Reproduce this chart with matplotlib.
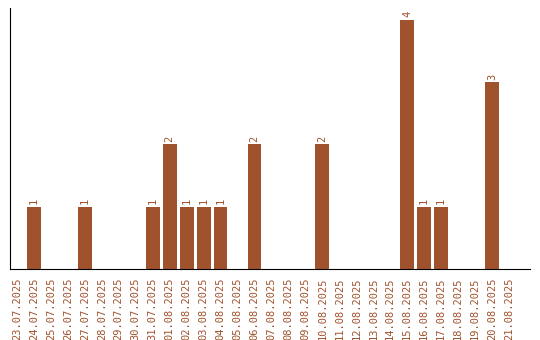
import numpy as np
import matplotlib
matplotlib.use('Agg')
import matplotlib.pyplot as plt

dates = ['23.07.2025', '24.07.2025', '25.07.2025', '26.07.2025', '27.07.2025',
         '28.07.2025', '29.07.2025', '30.07.2025', '31.07.2025', '01.08.2025',
         '02.08.2025', '03.08.2025', '04.08.2025', '05.08.2025', '06.08.2025',
         '07.08.2025', '08.08.2025', '09.08.2025', '10.08.2025', '11.08.2025',
         '12.08.2025', '13.08.2025', '14.08.2025', '15.08.2025', '16.08.2025',
         '17.08.2025', '18.08.2025', '19.08.2025', '20.08.2025', '21.08.2025']
counts = [0, 1, 0, 0, 1, 0, 0, 0, 1, 2, 1, 1, 1, 0, 2,
          0, 0, 0, 2, 0, 0, 0, 0, 4, 1, 1, 0, 0, 3, 0]

col = '#a0522d'
plt.rcParams['font.family'] = 'DejaVu Sans Mono'

fig = plt.figure(figsize=(5.4, 3.4), dpi=100)
ax = fig.add_axes([0.0185, 0.209, 0.963, 0.767])

x = np.arange(len(dates))
ax.bar(x, counts, width=0.82, color=col)
for xi, c in zip(x, counts):
    if c > 0:
        ax.text(xi, c + 0.04, str(c), rotation=90, ha='center', va='bottom',
                color=col, fontsize=7.5)

ax.set_xlim(-0.41, 30.24)
ax.set_ylim(0, 4.19)
ax.set_xticks(x)
ax.set_xticklabels(dates, rotation=90, color=col, fontsize=7.5)
ax.tick_params(axis='x', length=0, pad=6)
ax.set_yticks([])
ax.spines['top'].set_visible(False)
ax.spines['right'].set_visible(False)

fig.savefig('out.png', dpi=100)
